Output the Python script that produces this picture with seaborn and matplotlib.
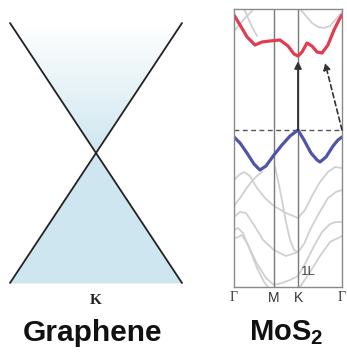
import numpy as np
import matplotlib
matplotlib.use("Agg")
import matplotlib.pyplot as plt
from matplotlib.colors import LinearSegmentedColormap
from matplotlib.patches import Polygon
import seaborn as sns

# ---------------- data ----------------
# Graphene Dirac cone (k relative to K, energy)
cone_k = [-1.0, 0.0, 1.0]
cone_valence = [-1.0, 0.0, -1.0]
cone_line_a = [1.0, 0.0, -1.0]
cone_line_b = [-1.0, 0.0, 1.0]

# MoS2 k-path positions and labels
path_ticks = [0.0, 0.37, 0.593, 1.0]
path_labels = ["Γ", "M", "K", "Γ"]

# conduction band (red)
cb_k = [0, 0.056, 0.12, 0.194, 0.26, 0.333, 0.426, 0.5, 0.556, 0.593, 0.63,
        0.676, 0.722, 0.769, 0.815, 0.87, 0.926, 0.972, 1.0]
cb_E = [2.875, 2.625, 2.33, 2.125, 2.2, 2.225, 2.25, 2.1, 1.9, 1.85, 1.95,
        2.175, 2.1, 1.95, 1.925, 2.125, 2.5, 2.75, 2.875]

# valence band (blue)
vb_k = [0, 0.056, 0.12, 0.185, 0.24, 0.296, 0.37, 0.444, 0.519, 0.593, 0.648,
        0.713, 0.769, 0.796, 0.852, 0.917, 0.963, 1.0]
vb_E = [-0.175, -0.325, -0.575, -0.85, -1.0, -0.9, -0.625, -0.375, -0.15, 0.0,
        -0.25, -0.575, -0.75, -0.8, -0.675, -0.4, -0.25, -0.175]

# other bands (grey)
g1_k = [0.009, 0.056, 0.111, 0.167]
g1_E = [2.5, 2.65, 2.825, 2.975]
g2_k = [0.093, 0.130, 0.167, 0.213]
g2_E = [3.025, 2.8, 2.575, 2.35]
g3_k = [0.611, 0.667, 0.722, 0.778, 0.833, 0.889, 0.944, 1.0]
g3_E = [3.025, 2.85, 2.675, 2.575, 2.55, 2.6, 2.775, 2.95]
g4_k = [0, 0.046, 0.093, 0.148, 0.213, 0.287, 0.370, 0.481, 0.593, 0.657,
        0.722, 0.796, 0.870, 0.935, 1.0]
g4_E = [-1.25, -1.125, -1.05, -1.15, -1.45, -1.7, -1.9, -2.075, -2.2, -2.0,
        -1.65, -1.3, -1.05, -0.925, -0.95]
g5_k = [0, 0.056, 0.111, 0.167, 0.222, 0.259]
g5_E = [-1.9, -1.7, -1.475, -1.275, -1.125, -1.05]
g6_k = [0, 0.056, 0.111, 0.185, 0.269, 0.370, 0.481, 0.593, 0.648, 0.713,
        0.778, 0.870, 0.944, 1.0]
g6_E = [-2.175, -2.05, -2.075, -2.375, -2.75, -3.0, -3.15, -3.05, -2.85,
        -2.45, -2.125, -1.7, -1.55, -1.5]
g7_k = [0, 0.037, 0.083, 0.148, 0.213, 0.278, 0.315]
g7_E = [-2.5, -2.45, -2.575, -3.0, -3.45, -3.8, -3.925]
g8_k = [0.019, 0.074, 0.130, 0.204, 0.296, 0.370, 0.444, 0.519, 0.593, 0.667,
        0.741, 0.815, 0.889, 0.944, 1.0]
g8_E = [-2.7, -2.625, -2.875, -3.3, -3.7, -3.875, -3.825, -3.75, -3.65, -3.3,
        -2.9, -2.55, -2.35, -2.3, -2.3]
g9_k = [0.380, 0.407, 0.444, 0.481, 0.519, 0.556, 0.593]
g9_E = [-0.925, -1.25, -1.75, -2.3, -2.75, -3.0, -3.05]
g10_k = [0.611, 0.704, 0.796, 0.889, 1.0]
g10_E = [-3.925, -3.55, -3.15, -2.8, -2.65]

grey_bands = [(g1_k, g1_E), (g2_k, g2_E), (g3_k, g3_E), (g4_k, g4_E),
              (g5_k, g5_E), (g6_k, g6_E), (g7_k, g7_E), (g8_k, g8_E),
              (g9_k, g9_E), (g10_k, g10_E)]

# transitions: direct (K->K) and indirect (Gamma->between K and Gamma)
direct_start = (0.593, 0.0)
direct_end = (0.593, 1.72)
indirect_start = (1.0, 0.0)
indirect_end = (0.843, 1.68)

# ---------------- figure ----------------
sns.set_style("white")
plt.rcParams["mathtext.fontset"] = "custom"
plt.rcParams["mathtext.bf"] = "Liberation Sans:bold"
plt.rcParams["mathtext.rm"] = "Liberation Sans"

W, H = 347, 354
fig = plt.figure(figsize=(W / 100, H / 100), dpi=100)
fig.patch.set_facecolor("white")

# ---- Graphene panel ----
ax1 = fig.add_axes([10 / W, (H - 283) / H, 172 / W, 260 / H])
ax1.set_xlim(-1, 1)
ax1.set_ylim(-1, 1)
ax1.axis("off")

ax1.fill_between(cone_k, -1, cone_valence, color="#cde6ef", lw=0)
grad = np.linspace(0, 1, 256)[:, None]
cmap = LinearSegmentedColormap.from_list("g", ["#cfe7f0", "#ffffff"])
im = ax1.imshow(grad, extent=(-1, 1, 0, 1), origin="lower", cmap=cmap,
                aspect="auto", interpolation="bilinear")
tri = Polygon([(-1, 1), (0, 0), (1, 1)], closed=True, transform=ax1.transData,
              facecolor="none", edgecolor="none")
im.set_clip_path(tri)
ax1.set_xlim(-1, 1)
ax1.set_ylim(-1, 1)

sns.lineplot(x=cone_k, y=cone_line_a, ax=ax1, color="#222222", lw=1.3,
             estimator=None, sort=False, clip_on=False)
sns.lineplot(x=cone_k, y=cone_line_b, ax=ax1, color="#222222", lw=1.3,
             estimator=None, sort=False, clip_on=False)
ax1.text(0.5, -0.069, "K", transform=ax1.transAxes, ha="center", va="center",
         fontsize=11, fontweight="bold", family="Liberation Serif", color="#222222")
fig.text(93 / W, 1 - 333 / H, "Graphene", ha="center", va="center",
         fontsize=21.5, fontweight="bold", family="Liberation Sans", color="#111111")

# ---- MoS2 panel ----
ax2 = fig.add_axes([234 / W, (H - 287) / H, 108 / W, 278 / H])
ax2.set_xlim(0, 1)
ax2.set_ylim(-3.925, 3.025)

for bk, bE in grey_bands:
    sns.lineplot(x=bk, y=bE, ax=ax2, color="#d0d0d0", lw=1.3,
                 estimator=None, sort=False)

for xv in path_ticks[1:3]:
    ax2.axvline(xv, color="#7a7a7a", lw=1.0)

ax2.axhline(0, color="#555555", lw=1.0, ls=(0, (3.5, 2.5)))

sns.lineplot(x=cb_k, y=cb_E, ax=ax2, color="#e23c4f", lw=2.3,
             estimator=None, sort=False)
sns.lineplot(x=vb_k, y=vb_E, ax=ax2, color="#4f55a8", lw=2.3,
             estimator=None, sort=False)

ax2.annotate("", xy=direct_end, xytext=direct_start,
             arrowprops=dict(arrowstyle="-|>", color="#333333", lw=1.4,
                             mutation_scale=10, shrinkA=0, shrinkB=0))
ax2.annotate("", xy=indirect_end, xytext=indirect_start,
             arrowprops=dict(arrowstyle="-|>", color="#333333", lw=1.2,
                             ls=(0, (3, 2)), mutation_scale=10,
                             shrinkA=0, shrinkB=0))

ax2.text(0.62, -3.55, "1L", ha="left", va="center", fontsize=9.5,
         family="Liberation Sans", color="#444444")

ax2.set_xticks(path_ticks)
ax2.set_xticklabels(path_labels)
ax2.set_yticks([])
ax2.tick_params(axis="x", length=0, pad=3, labelsize=10, colors="#333333")
for lab in ax2.get_xticklabels():
    if lab.get_text() == "Γ":
        lab.set_family("Liberation Serif")
    else:
        lab.set_family("Liberation Sans")
for sp in ax2.spines.values():
    sp.set_color("#8a8a8a")
    sp.set_linewidth(1.0)
ax2.set_xlabel("")
ax2.set_ylabel("")

fig.text(286 / W, 1 - 333 / H, r"MoS$_\mathbf{2}$", ha="center", va="center",
         fontsize=21, fontweight="bold", family="Liberation Sans", color="#111111")

fig.savefig("out.png", dpi=100, facecolor="white")
